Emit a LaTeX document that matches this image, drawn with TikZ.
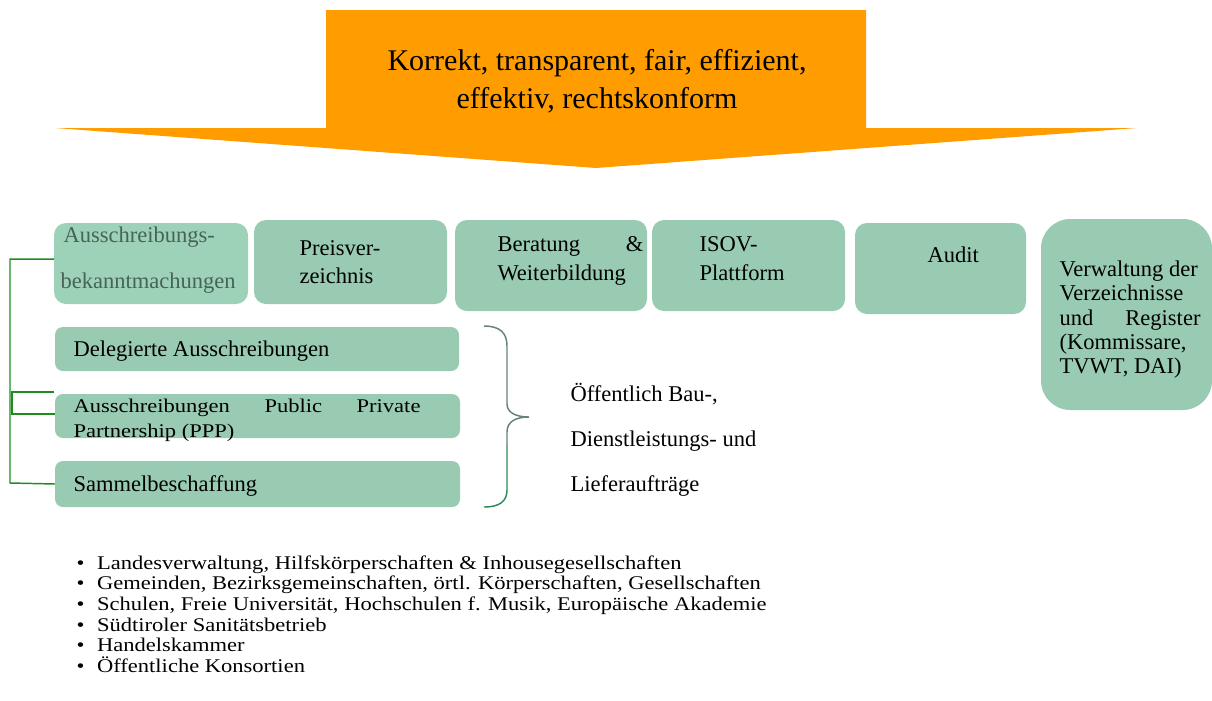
\documentclass[tikz,border=0pt]{standalone}
\usepackage{fontspec}
\setmainfont{Liberation Serif}
\newdimen\pxu \pxu=0.75pt
\newcommand{\squish}[1]{\scalebox{1}[0.86]{#1}}
\newcommand{\bigdot}{•\hspace{9.5pt}}

\definecolor{arroworange}{RGB}{255,156,0}
\definecolor{boxgreen}{RGB}{152,203,178}
\definecolor{boxmint}{RGB}{158,210,184}
\definecolor{linegreen}{RGB}{30,140,30}
\definecolor{bracegreen}{RGB}{46,139,87}
\definecolor{bracegrey}{RGB}{105,130,118}
\definecolor{fadedtext}{RGB}{70,100,85}

\tikzset{every picture/.style={line width=0.75pt}}
\tikzset{
  gbox/.style={fill=boxgreen, inner sep=0pt, outer sep=0pt, rounded corners=9pt},
  lowbox/.style={gbox, rounded corners=6pt},
  txt/.style={anchor=base west, inner sep=0pt, font=\fontsize{16.9}{20}\selectfont},
  bigtxt/.style={anchor=base, inner sep=0pt, font=\fontsize{22.5}{28}\selectfont},
  brk/.style={draw=linegreen, line width=1.1pt},
}

\begin{document}
\begin{tikzpicture}[x=0.75pt,y=0.75pt,yscale=-1,xscale=1]
\path[use as bounding box] (0,0) rectangle (1212,700);

%Shape: Down Arrow
\fill[arroworange] (326,10) -- (866,10) -- (866,128) -- (1137,128) -- (596,168) -- (55,128) -- (326,128) -- cycle ;
% Text Node
\node[bigtxt] (goal1) at (597,70) {Korrekt, transparent, fair, effizient,};
% Text Node
\node[bigtxt] (goal2) at (597,108) {effektiv, rechtskonform};

%Shapes: top row
\node[gbox, fill=boxmint, minimum width=194\pxu, minimum height=81\pxu] (aus) at (151,263.5) {};
\node[gbox, minimum width=193\pxu, minimum height=84\pxu] (preis) at (350.5,262) {};
\node[gbox, minimum width=192\pxu, minimum height=91\pxu] (berat) at (551,265.5) {};
\node[gbox, minimum width=193\pxu, minimum height=91\pxu] (isov) at (748.5,265.5) {};
\node[gbox, minimum width=171\pxu, minimum height=91\pxu] (audit) at (940.5,268.5) {};
\node[gbox, rounded corners=22pt, minimum width=171\pxu, minimum height=191\pxu] (verw) at (1126.5,314.5) {};

%Shapes: lower boxes
\node[lowbox, minimum width=404\pxu, minimum height=44\pxu] (deleg) at (257,349) {};
\node[lowbox, minimum width=405\pxu, minimum height=44\pxu] (ppp) at (257.5,416) {};
\node[lowbox, minimum width=405\pxu, minimum height=46\pxu] (sammel) at (257.5,484) {};

%Connectors on the left
\coordinate (gap) at (54,392);
\draw[brk] ([yshift=-3.3pt]aus.west) -| (10,483) -- (sammel.west);
\draw[brk] (gap) -| (12,414) -- ([yshift=-1.5pt]ppp.west);

%Curly brace
\draw[bracegrey, line width=1.1pt] (484,326) .. controls (500,326) and (507,333) .. (507,346) -- (507,404) .. controls (507,412) and (515,417) .. (529,417) .. controls (515,417) and (507,422) .. (507,432) -- (507,445) ;
\draw[bracegreen, line width=1.1pt] (507,445) -- (507,490) .. controls (507,501) and (500,507) .. (484,507) ;

% Text Nodes: top row
\node[txt, text=fadedtext] (aus1) at (63,242) {Ausschreibungs-};
\node[txt, text=fadedtext] (aus2) at (60,288) {bekanntmachungen};
\node[txt] (preis1) at (299,255) {Preisver-};
\node[txt] (preis2) at (299,283) {zeichnis};
\node[txt] (berat1) at (497,251) {\makebox[146\pxu][s]{Beratung \&}};
\node[txt] (berat2) at (497,280) {Weiterbildung};
\node[txt] (isov1) at (699,251) {ISOV-};
\node[txt] (isov2) at (699,280) {Plattform};
\node[txt] (audit1) at (927,262) {Audit};
\node[txt] (verw1) at (1059,276) {Verwaltung der};
\node[txt] (verw2) at (1059,300) {Verzeichnisse};
\node[txt] (verw3) at (1059,325) {\makebox[141\pxu][s]{und Register}};
\node[txt] (verw4) at (1059,349) {(Kommissare,};
\node[txt] (verw5) at (1059,373) {TVWT, DAI)};

% Text Nodes: lower boxes
\node[txt] (deleg1) at (73,356) {Delegierte Ausschreibungen};
\node[txt] (ppp1) at (73,412) {\squish{\makebox[347\pxu][s]{Ausschreibungen Public Private}}};
\node[txt] (ppp2) at (73,437) {\squish{Partnership (PPP)}};
\node[txt] (sammel1) at (73,491) {Sammelbeschaffung};

% Text Nodes: brace label
\node[txt] (oeff1) at (570,401) {Öffentlich Bau-,};
\node[txt] (oeff2) at (570,446) {Dienstleistungs- und};
\node[txt] (oeff3) at (570,491) {Lieferaufträge};

% Text Nodes: bullet list
\node[txt] (b1) at (76,569) {\squish{\bigdot Landesverwaltung, Hilfskörperschaften \& Inhousegesellschaften}};
\node[txt] (b2) at (76,589) {\squish{\bigdot Gemeinden, Bezirksgemeinschaften, örtl. Körperschaften, Gesellschaften}};
\node[txt] (b3) at (76,610) {\squish{\bigdot Schulen, Freie Universität, Hochschulen f. Musik, Europäische Akademie}};
\node[txt] (b4) at (76,631) {\squish{\bigdot Südtiroler Sanitätsbetrieb}};
\node[txt] (b5) at (76,651) {\squish{\bigdot Handelskammer}};
\node[txt] (b6) at (76,672) {\squish{\bigdot Öffentliche Konsortien}};

\end{tikzpicture}
\end{document}
